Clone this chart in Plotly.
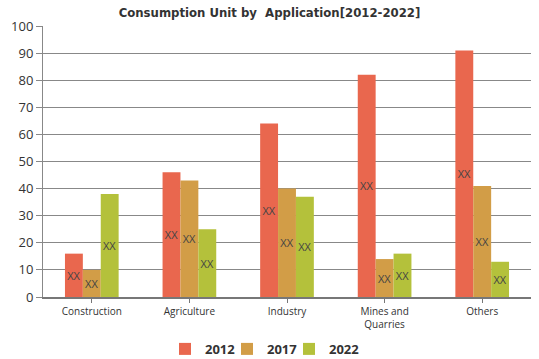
import plotly.graph_objects as go

categories = ["Construction", "Agriculture", "Industry", "Mines and<br>Quarries", "Others"]
years = ["2012", "2017", "2022"]
v2012 = [16, 46, 64, 82, 91]
v2017 = [10, 43, 40, 14, 41]
v2022 = [38, 25, 37, 16, 13]
colors = ["#E9674E", "#D29D47", "#B4C13B"]
label = "XX"
legend_ids = ["legend", "legend2", "legend3"]
legend_left_px = [165, 227, 289]

W, H = 539, 359
fig = go.Figure()
for name, vals, c, lid in zip(years, [v2012, v2017, v2022], colors, legend_ids):
    fig.add_trace(go.Bar(
        x=categories, y=vals, name=name, marker_color=c, marker_line_width=0,
        text=[label] * len(vals), textposition="inside", insidetextanchor="middle",
        textangle=0, textfont=dict(color="#444444", size=11, family="Open Sans"),
        hoverinfo="skip", legend=lid, showlegend=True,
    ))

legend_style = dict(orientation="h", xanchor="left", xref="container", yref="container",
                    y=0.028, yanchor="middle", visible=True,
                    font=dict(family="Open Sans", size=13, color="#333333", weight="bold"),
                    itemwidth=30, bgcolor="rgba(0,0,0,0)")
legends = {}
for lid, px in zip(legend_ids, legend_left_px):
    legends[lid] = dict(legend_style, x=px / W)

fig.update_layout(
    width=W, height=H, showlegend=True,
    margin=dict(l=43, r=8, t=26, b=62, autoexpand=False),
    paper_bgcolor="white", plot_bgcolor="white",
    barmode="group", bargap=0.45, bargroupgap=0,
    uniformtext=dict(mode="show", minsize=11),
    title=dict(text="<b>Consumption Unit by  Application[2012-2022]</b>",
               x=0.5, xanchor="center", yref="container", y=0.965, yanchor="middle",
               font=dict(family="DejaVu Sans Condensed", size=13, color="#333333")),
    font=dict(family="Open Sans", color="#333333"),
    **legends,
)
fig.update_yaxes(range=[0, 100], dtick=10, showgrid=True, gridcolor="#888888", gridwidth=1,
                 showline=True, linecolor="#888888", ticks="outside", ticklen=6, tickcolor="#888888",
                 tickfont=dict(size=13, color="#333333"), zeroline=False, automargin=False)
fig.update_xaxes(showline=True, linecolor="#777777", linewidth=2, ticks="outside", ticklen=4,
                 tickcolor="#777777", tickfont=dict(size=10, color="#333333"), automargin=False)

fig.write_html("out.html", config={"displayModeBar": False},
               post_script="document.body.style.margin='0';")
